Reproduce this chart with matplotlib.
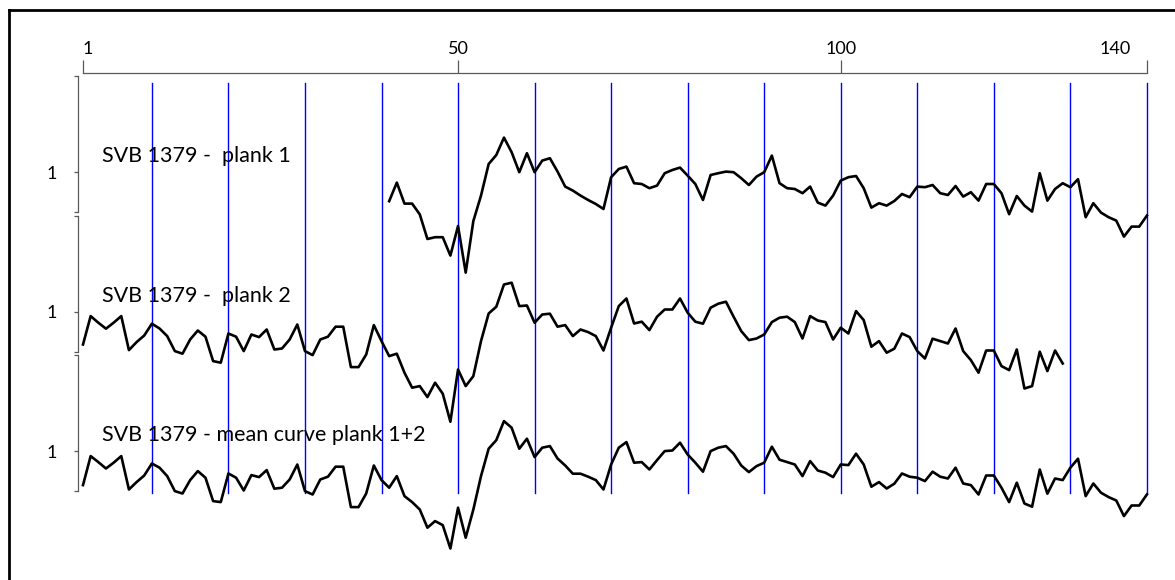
import numpy as np
import matplotlib
matplotlib.use("Agg")
import matplotlib.pyplot as plt
from matplotlib.lines import Line2D
from matplotlib.transforms import ScaledTranslation

# ---------------- data ----------------
top_ticks = [1, 50, 100, 140]
top_tick_labels = ["1", "50", "100", "140"]
grid_years = [10, 20, 30, 40, 50, 60, 70, 80, 90, 100, 110, 120, 130, 140]

series_labels = ["SVB 1379 -  plank 1", "SVB 1379 -  plank 2",
                 "SVB 1379 - mean curve plank 1+2"]

years_plank1 = np.arange(41, 141)
plank1 = [0.854, 0.947, 0.842, 0.842, 0.788, 0.665, 0.674, 0.674, 0.582, 0.730,
          0.497, 0.755, 0.882, 1.040, 1.085, 1.172, 1.099, 0.999, 1.094, 0.999,
          1.057, 1.069, 1.002, 0.927, 0.907, 0.882, 0.860, 0.840, 0.815, 0.974,
          1.015, 1.027, 0.944, 0.940, 0.919, 0.932, 0.994, 1.010, 1.022, 0.982,
          0.940, 0.860, 0.985, 0.994, 1.002, 0.999, 0.969, 0.935, 0.977, 0.999,
          1.082, 0.944, 0.919, 0.915, 0.894, 0.927, 0.847, 0.832, 0.882, 0.957,
          0.974, 0.980, 0.919, 0.822, 0.844, 0.832, 0.855, 0.890, 0.874, 0.927,
          0.924, 0.935, 0.894, 0.885, 0.930, 0.877, 0.899, 0.857, 0.940, 0.940,
          0.894, 0.789, 0.880, 0.832, 0.802, 0.994, 0.857, 0.915, 0.944, 0.924,
          0.964, 0.774, 0.844, 0.797, 0.774, 0.757, 0.677, 0.727, 0.727, 0.782]

years_plank2 = np.arange(1, 130)
plank2 = [0.835, 0.977, 0.944, 0.914, 0.944, 0.977, 0.807, 0.847, 0.880, 0.939,
          0.915, 0.877, 0.802, 0.789, 0.860, 0.905, 0.874, 0.752, 0.744, 0.890,
          0.874, 0.802, 0.885, 0.872, 0.910, 0.810, 0.815, 0.860, 0.935, 0.802,
          0.782, 0.860, 0.874, 0.924, 0.924, 0.722, 0.722, 0.785, 0.932, 0.852,
          0.777, 0.789, 0.694, 0.619, 0.627, 0.572, 0.644, 0.589, 0.449, 0.710,
          0.627, 0.677, 0.852, 0.990, 1.024, 1.135, 1.144, 1.027, 1.030, 0.944,
          0.985, 0.989, 0.924, 0.932, 0.877, 0.910, 0.897, 0.877, 0.805, 0.919,
          1.027, 1.065, 0.940, 0.949, 0.907, 0.974, 1.010, 1.010, 1.065, 0.994,
          0.949, 0.939, 1.019, 1.039, 1.049, 0.974, 0.902, 0.857, 0.865, 0.885,
          0.947, 0.969, 0.974, 0.947, 0.865, 0.977, 0.955, 0.947, 0.860, 0.919,
          0.890, 1.002, 0.957, 0.824, 0.852, 0.794, 0.814, 0.890, 0.872, 0.802,
          0.765, 0.864, 0.852, 0.840, 0.915, 0.802, 0.757, 0.694, 0.805, 0.805,
          0.727, 0.707, 0.810, 0.615, 0.627, 0.799, 0.702, 0.805, 0.740]

years_mean = np.arange(1, 141)
mean_curve = [0.832, 0.977, 0.947, 0.915, 0.944, 0.977, 0.810, 0.847, 0.880, 0.940,
              0.919, 0.877, 0.802, 0.790, 0.857, 0.902, 0.869, 0.752, 0.747, 0.890,
              0.869, 0.805, 0.882, 0.872, 0.907, 0.814, 0.819, 0.860, 0.935, 0.802,
              0.785, 0.860, 0.874, 0.924, 0.924, 0.722, 0.722, 0.790, 0.930, 0.857,
              0.819, 0.877, 0.777, 0.747, 0.710, 0.619, 0.652, 0.632, 0.515, 0.719,
              0.569, 0.710, 0.877, 1.014, 1.057, 1.152, 1.119, 1.014, 1.064, 0.972,
              1.019, 1.027, 0.965, 0.930, 0.889, 0.889, 0.874, 0.857, 0.810, 0.935,
              1.019, 1.047, 0.944, 0.947, 0.910, 0.957, 1.002, 1.005, 1.044, 0.985,
              0.944, 0.899, 1.002, 1.019, 1.027, 0.989, 0.930, 0.897, 0.927, 0.944,
              1.024, 0.959, 0.947, 0.935, 0.877, 0.952, 0.905, 0.894, 0.872, 0.935,
              0.932, 0.989, 0.935, 0.824, 0.847, 0.815, 0.839, 0.890, 0.874, 0.869,
              0.852, 0.899, 0.874, 0.865, 0.919, 0.840, 0.832, 0.785, 0.880, 0.880,
              0.819, 0.747, 0.844, 0.740, 0.724, 0.910, 0.789, 0.865, 0.857, 0.919,
              0.964, 0.777, 0.840, 0.794, 0.772, 0.755, 0.677, 0.730, 0.730, 0.785]

panel_ticks = [0.80, 1.0, 1.48]
panel_tick_labels = ["", "1", ""]

# ---------------- figure ----------------
plt.rcParams['font.family'] = ['Lato', 'DejaVu Sans']
W, H = 1175, 580
fig = plt.figure(figsize=(W / 100, H / 100), dpi=100)
fig.patch.set_facecolor('white')


def fx(px):
    return px / W


def fy(px):
    return 1 - px / H


AX_L, AX_R = 83.0, 1146.9
axis_color = '#595959'
TOP_Y, BOT_Y, BLUE_TOP = 73, 493, 83

ax = fig.add_axes([fx(AX_L), fy(BOT_Y), (AX_R - AX_L) / W, (BOT_Y - TOP_Y) / H])
ax.set_xlim(1, 140)
ax.set_ylim(0, 1)
ax.patch.set_visible(False)
for s in ['left', 'right', 'bottom']:
    ax.spines[s].set_visible(False)
ax.spines['top'].set_color(axis_color)
ax.spines['top'].set_linewidth(0.9)
ax.xaxis.tick_top()
ax.set_xticks(top_ticks)
ax.set_xticklabels(top_tick_labels)
ax.set_yticks([])
ax.tick_params(axis='x', direction='out', length=9.4, width=0.9, color=axis_color,
               pad=2.0, labelsize=13, labelcolor='black')
labs = ax.get_xticklabels()
labs[0].set_ha('left')
labs[-1].set_ha('right')
labs[-1].set_transform(labs[-1].get_transform() +
                       ScaledTranslation(-16 / 100, 0, fig.dpi_scale_trans))

for yr in grid_years:
    ax.axvline(yr, ymin=0, ymax=(BOT_Y - BLUE_TOP) / (BOT_Y - TOP_Y),
               color='#0000FF', lw=1.0, zorder=1, clip_on=False)

panel_tops = [76, 215.5, 355.5]
PANEL_H = 136
panel_data = [(years_plank1, plank1), (years_plank2, plank2), (years_mean, mean_curve)]

for top, (yrs, vals), label in zip(panel_tops, panel_data, series_labels):
    pax = fig.add_axes([fx(AX_L), fy(top + PANEL_H), (AX_R - AX_L) / W, PANEL_H / H])
    pax.set_xlim(1, 140)
    pax.set_ylim(0.80, 1.48)
    pax.patch.set_visible(False)
    for s in ['top', 'right', 'bottom']:
        pax.spines[s].set_visible(False)
    pax.spines['left'].set_position(('outward', 3.6))
    pax.spines['left'].set_color(axis_color)
    pax.spines['left'].set_linewidth(0.9)
    pax.set_xticks([])
    pax.set_yticks(panel_ticks)
    pax.set_yticklabels(panel_tick_labels)
    pax.tick_params(axis='y', direction='out', length=3.1, width=0.9, color=axis_color,
                    pad=12, labelsize=13, labelcolor='black')
    pax.plot(yrs, vals, color='black', lw=1.9, clip_on=False, zorder=3)
    pax.text(3.5, 1.05, label, fontsize=15.5, color='black', va='baseline', ha='left')

# partial frame (top and left edges)
fig.add_artist(Line2D([fx(9), fx(9)], [fy(10), 0], transform=fig.transFigure,
                      color='black', lw=2.0))
fig.add_artist(Line2D([fx(9), 1], [fy(10), fy(10)], transform=fig.transFigure,
                      color='black', lw=2.0))

fig.savefig('out.png', dpi=100, facecolor='white')
